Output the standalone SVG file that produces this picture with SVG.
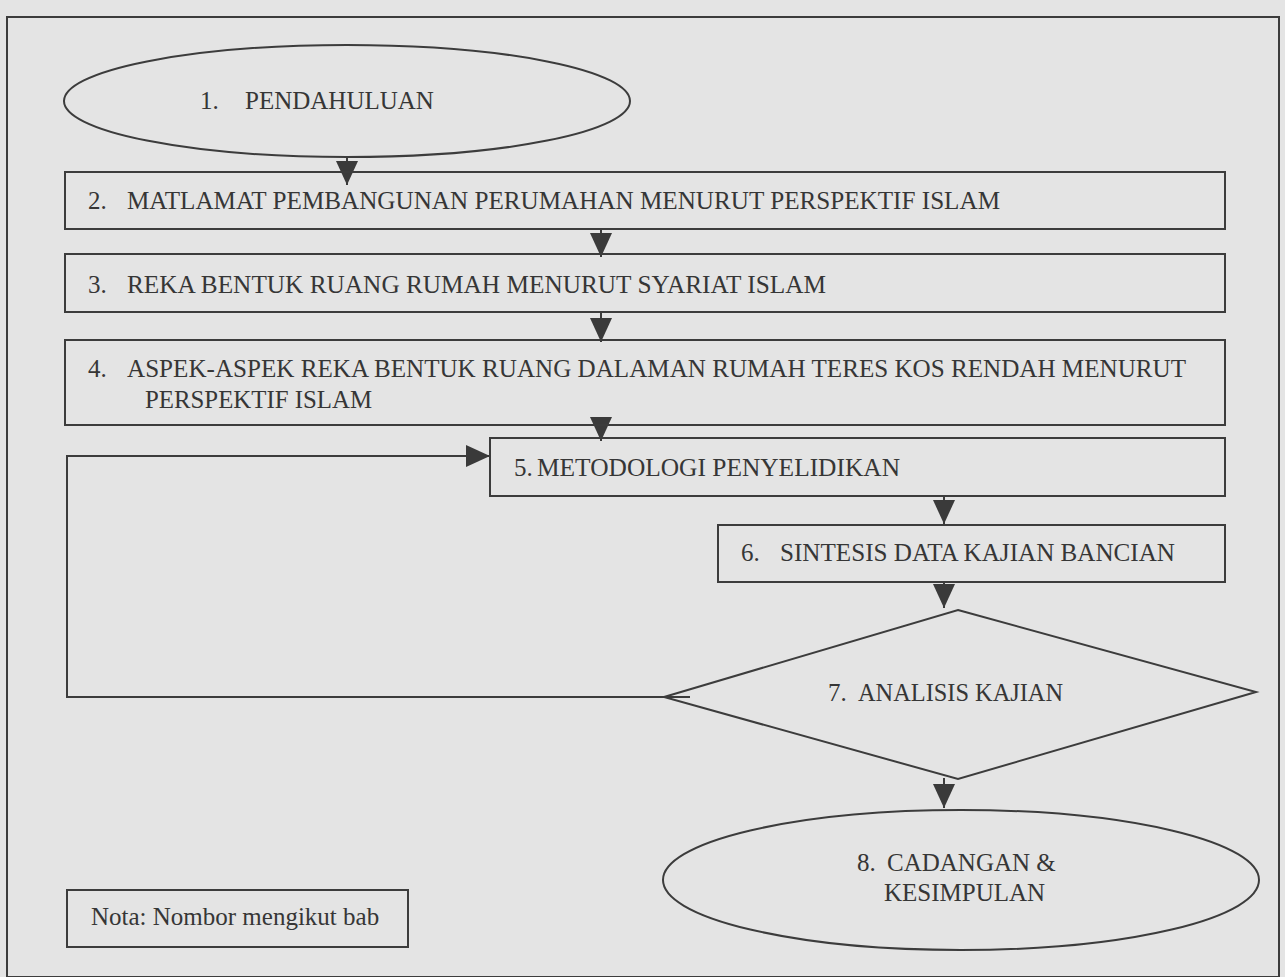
<svg xmlns="http://www.w3.org/2000/svg" width="1285" height="977" viewBox="0 0 1285 977">
<defs>
<style>
.bg{fill:#e4e4e4}
.shape{fill:none;stroke:#3c3c3c;stroke-width:2}
.conn{fill:none;stroke:#3c3c3c;stroke-width:2}
.t{font-family:"Liberation Serif","Times New Roman",serif;font-size:25px;fill:#363636}
</style>
<marker id="ah" markerUnits="userSpaceOnUse" markerWidth="24" markerHeight="22" refX="24" refY="11" orient="auto" viewBox="0 0 24 22">
<path d="M0,0 L24,11 L0,22 Z" fill="#3a3a3a"/>
</marker>
</defs>
<rect class="bg" x="0" y="0" width="1285" height="977"/>
<rect id="frame" class="shape" x="7" y="17" width="1272" height="960"/>

<g id="connectors">
<line class="conn" x1="347" y1="157" x2="347" y2="185" marker-end="url(#ah)"/>
<line class="conn" x1="601" y1="229" x2="601" y2="257" marker-end="url(#ah)"/>
<line class="conn" x1="601" y1="312" x2="601" y2="342" marker-end="url(#ah)"/>
<line class="conn" x1="601" y1="425" x2="601" y2="441" marker-end="url(#ah)"/>
<line class="conn" x1="944" y1="496" x2="944" y2="524" marker-end="url(#ah)"/>
<line class="conn" x1="944" y1="582" x2="944" y2="608" marker-end="url(#ah)"/>
<line class="conn" x1="944" y1="778" x2="944" y2="808" marker-end="url(#ah)"/>
<polyline class="conn" points="690,697 67,697 67,456 490,456" marker-end="url(#ah)"/>
</g>

<g id="n1">
<ellipse class="shape" cx="347" cy="101" rx="283" ry="56"/>
<text class="t" x="200" y="109">1.</text>
<text class="t" x="245" y="109">PENDAHULUAN</text>
</g>
<g id="n2">
<rect class="shape" x="65" y="172" width="1160" height="57"/>
<text class="t" x="88" y="209">2.</text>
<text class="t" x="127" y="209" textLength="873" lengthAdjust="spacingAndGlyphs">MATLAMAT PEMBANGUNAN PERUMAHAN MENURUT PERSPEKTIF ISLAM</text>
</g>
<g id="n3">
<rect class="shape" x="65" y="254" width="1160" height="58"/>
<text class="t" x="88" y="293">3.</text>
<text class="t" x="127" y="293" textLength="699" lengthAdjust="spacingAndGlyphs">REKA BENTUK RUANG RUMAH MENURUT SYARIAT ISLAM</text>
</g>
<g id="n4">
<rect class="shape" x="65" y="340" width="1160" height="85"/>
<text class="t" x="88" y="377">4.</text>
<text class="t" x="127" y="377" textLength="1059" lengthAdjust="spacingAndGlyphs">ASPEK-ASPEK REKA BENTUK RUANG DALAMAN RUMAH TERES KOS RENDAH MENURUT</text>
<text class="t" x="145" y="408" textLength="227" lengthAdjust="spacingAndGlyphs">PERSPEKTIF ISLAM</text>
</g>
<g id="n5">
<rect class="shape" x="490" y="438" width="735" height="58"/>
<text class="t" x="514" y="476">5.</text>
<text class="t" x="537" y="476" textLength="363" lengthAdjust="spacingAndGlyphs">METODOLOGI PENYELIDIKAN</text>
</g>
<g id="n6">
<rect class="shape" x="718" y="525" width="507" height="57"/>
<text class="t" x="741" y="561">6.</text>
<text class="t" x="780" y="561" textLength="395" lengthAdjust="spacingAndGlyphs">SINTESIS DATA KAJIAN BANCIAN</text>
</g>
<g id="n7">
<polygon class="shape" points="958,610 1256,692 958,779 664,697"/>
<text class="t" x="828" y="701">7.</text>
<text class="t" x="858" y="701" textLength="205" lengthAdjust="spacingAndGlyphs">ANALISIS KAJIAN</text>
</g>
<g id="n8">
<ellipse class="shape" cx="961" cy="880" rx="298" ry="70"/>
<text class="t" x="857" y="871">8.</text>
<text class="t" x="887" y="871">CADANGAN &amp;</text>
<text class="t" x="884" y="901">KESIMPULAN</text>
</g>
<g id="nota">
<rect class="shape" x="67" y="890" width="341" height="57"/>
<text class="t" x="91" y="925">Nota: Nombor mengikut bab</text>
</g>
</svg>
